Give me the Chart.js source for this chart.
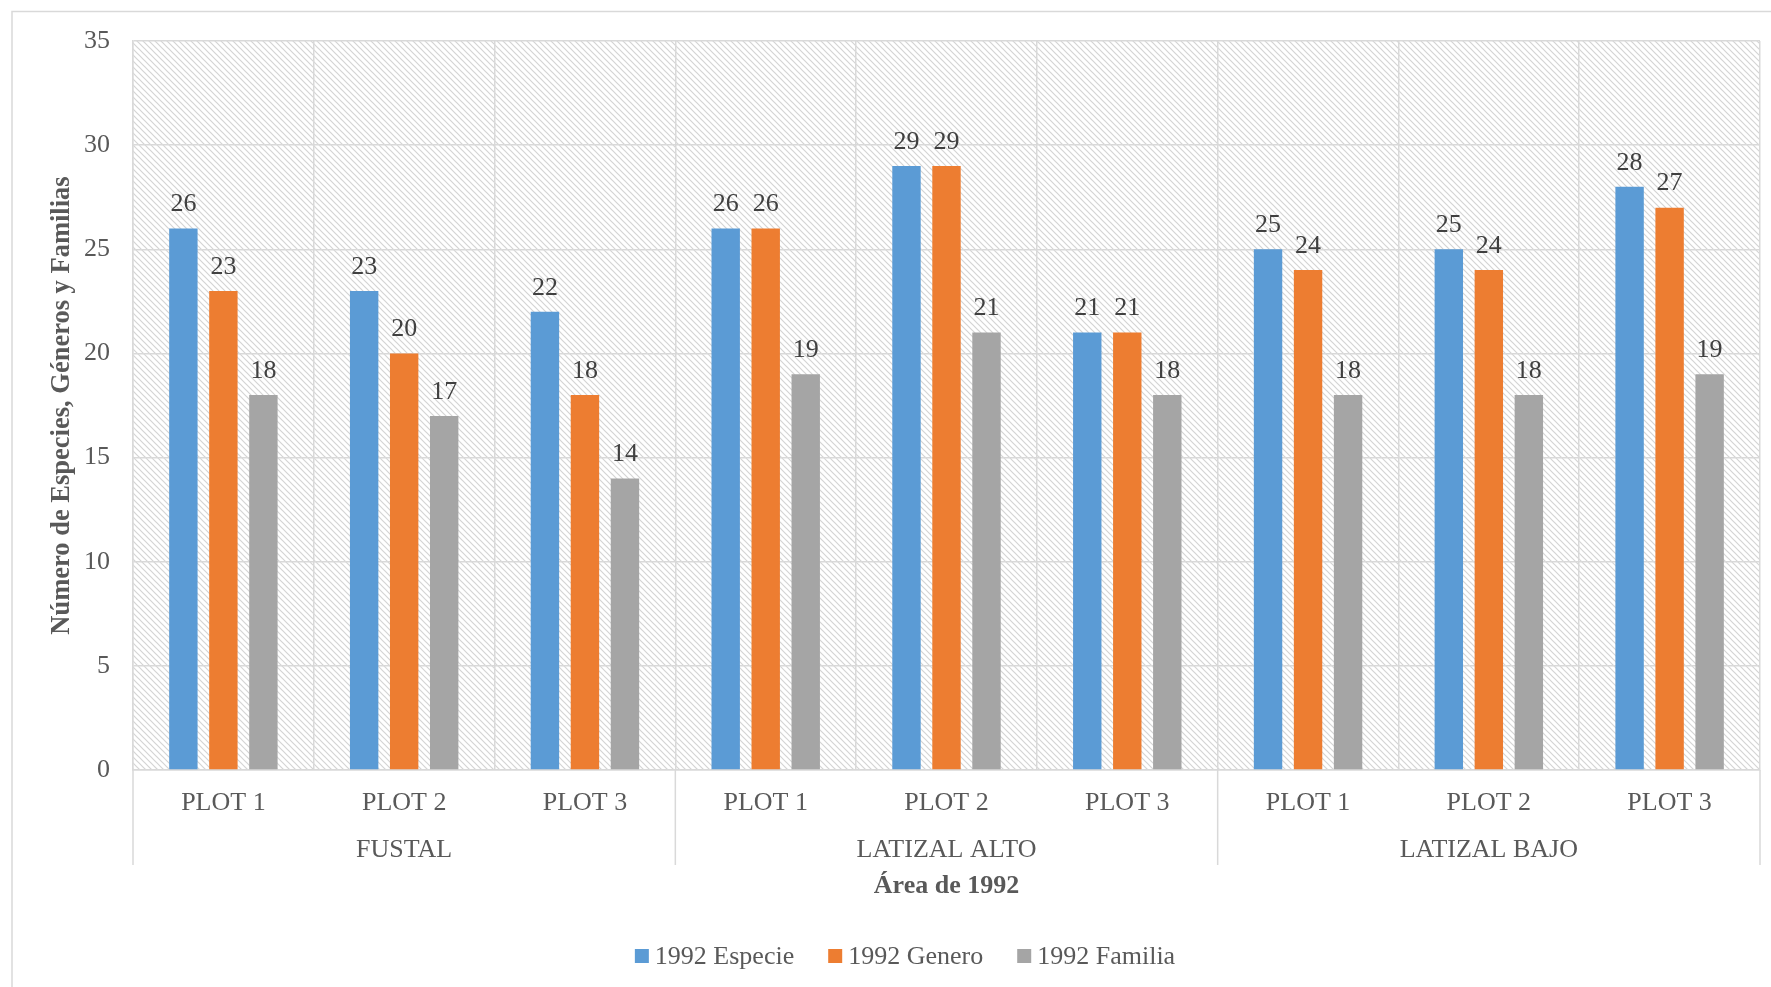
<!DOCTYPE html>
<html>
<head>
<meta charset="utf-8">
<script src="https://cdn.jsdelivr.net/npm/chart.js@4"></script>
<style>
  html, body { margin: 0; padding: 0; background: #fff; }
  #wrap { width: 1771px; height: 987px; }
</style>
</head>
<body>
<div id="wrap"><canvas id="myChart" width="1771" height="987"></canvas></div>
<script>
const plots = ['PLOT 1', 'PLOT 2', 'PLOT 3', 'PLOT 1', 'PLOT 2', 'PLOT 3', 'PLOT 1', 'PLOT 2', 'PLOT 3'];
const groups = ['FUSTAL', 'LATIZAL ALTO', 'LATIZAL BAJO'];
const especie = [26, 23, 22, 26, 29, 21, 25, 25, 28];
const genero = [23, 20, 18, 26, 29, 21, 24, 24, 27];
const familia = [18, 17, 14, 19, 21, 18, 18, 18, 19];
const seriesNames = ['1992 Especie', '1992 Genero', '1992 Familia'];
const yTicks = [0, 5, 10, 15, 20, 25, 30, 35];

const FONT = '"Liberation Serif", "Times New Roman", serif';
const colors = ['#5b9bd5', '#ed7d31', '#a5a5a5'];

// diagonal hatch for the plot area
function makeHatch() {
    const s = 6;
    const c = document.createElement('canvas');
    c.width = s; c.height = s;
    const g = c.getContext('2d');
    g.fillStyle = '#ffffff';
    g.fillRect(0, 0, s, s);
    g.strokeStyle = '#d4d4d4';
    g.lineWidth = 1.2;
    g.beginPath();
    g.moveTo(0, 0); g.lineTo(s, s);
    g.moveTo(-1, s - 1); g.lineTo(1, s + 1);
    g.moveTo(s - 1, -1); g.lineTo(s + 1, 1);
    g.stroke();
    return c;
}

const extras = {
    id: 'extras',
    beforeDraw(chart) {
        const ctx = chart.ctx;
        const a = chart.chartArea;
        ctx.save();
        // outer frame
        ctx.strokeStyle = '#d9d9d9';
        ctx.lineWidth = 1.5;
        ctx.beginPath();
        ctx.moveTo(12, 990); ctx.lineTo(12, 11.5); ctx.lineTo(1775, 11.5);
        ctx.stroke();
        ctx.fillStyle = ctx.createPattern(makeHatch(), 'repeat');
        ctx.fillRect(a.left, a.top, a.right - a.left, a.bottom - a.top);
        ctx.restore();
    },
    afterDatasetsDraw(chart) {
        const ctx = chart.ctx;
        ctx.save();
        ctx.font = '26px ' + FONT;
        ctx.fillStyle = '#404040';
        ctx.textAlign = 'center';
        ctx.textBaseline = 'bottom';
        chart.data.datasets.forEach(function (ds, i) {
            chart.getDatasetMeta(i).data.forEach(function (bar, j) {
                ctx.fillText(ds.data[j], bar.x, bar.y - 11);
            });
        });
        ctx.restore();
    },
    afterDraw(chart) {
        const ctx = chart.ctx;
        const a = chart.chartArea;
        const step = (a.right - a.left) / plots.length;
        ctx.save();
        // group separators and labels
        ctx.strokeStyle = '#d9d9d9';
        ctx.lineWidth = 1.5;
        for (let g = 0; g <= groups.length; g++) {
            const x = a.left + g * 3 * step;
            ctx.beginPath();
            ctx.moveTo(x, a.bottom);
            ctx.lineTo(x, 865);
            ctx.stroke();
        }
        ctx.font = '26px ' + FONT;
        ctx.fillStyle = '#595959';
        ctx.textAlign = 'center';
        ctx.textBaseline = 'middle';
        groups.forEach(function (name, g) {
            ctx.fillText(name, a.left + (g * 3 + 1.5) * step, 850);
        });
        // legend
        const box = 14, gap = 6, sep = 34;
        const widths = seriesNames.map(n => box + gap + ctx.measureText(n).width);
        const total = widths.reduce((p, w) => p + w, 0) + sep * (seriesNames.length - 1);
        let x = 905 - total / 2;
        const y = 956;
        ctx.textAlign = 'left';
        seriesNames.forEach(function (n, i) {
            ctx.fillStyle = colors[i];
            ctx.fillRect(x, y - box / 2, box, box);
            ctx.fillStyle = '#595959';
            ctx.fillText(n, x + box + gap, y + 1);
            x += widths[i] + sep;
        });
        ctx.restore();
    }
};

const ctx = document.getElementById('myChart').getContext('2d');
const myChart = new Chart(ctx, {
    type: 'bar',
    data: {
        labels: plots,
        datasets: [
            { label: seriesNames[0], data: especie, backgroundColor: colors[0] },
            { label: seriesNames[1], data: genero, backgroundColor: colors[1] },
            { label: seriesNames[2], data: familia, backgroundColor: colors[2] }
        ]
    },
    options: {
        responsive: false,
        animation: false,
        datasets: {
            bar: { categoryPercentage: 0.664, barPercentage: 0.71 }
        },
        layout: { padding: { left: 0, top: 41, right: 11, bottom: 0 } },
        scales: {
            x: {
                afterFit: (scale) => { scale.height = 217; },
                grid: { color: '#d9d9d9', lineWidth: 1.5, drawTicks: false, offset: true },
                border: { color: '#d9d9d9', width: 1.5 },
                ticks: { color: '#595959', font: { family: FONT, size: 26 }, padding: 18 },
                title: {
                    display: true,
                    text: 'Área de 1992',
                    color: '#595959',
                    font: { family: FONT, size: 26, weight: 'bold' },
                    padding: { top: 0, bottom: 85 }
                }
            },
            y: {
                min: 0,
                max: 35,
                afterFit: (scale) => { scale.width = 133; },
                afterBuildTicks: (scale) => { scale.ticks = yTicks.map(v => ({ value: v })); },
                grid: { color: '#d9d9d9', lineWidth: 1.5, drawTicks: false },
                border: { color: '#d9d9d9', width: 1.5 },
                ticks: { color: '#595959', font: { family: FONT, size: 26 }, padding: 23 },
                title: {
                    display: true,
                    text: 'Número de Especies, Géneros y Familias',
                    color: '#595959',
                    font: { family: FONT, size: 26.5, weight: 'bold' },
                    padding: { top: 46, bottom: 0 }
                }
            }
        },
        plugins: {
            legend: { display: false },
            tooltip: { enabled: false }
        }
    },
    plugins: [extras]
});
</script>
</body>
</html>
